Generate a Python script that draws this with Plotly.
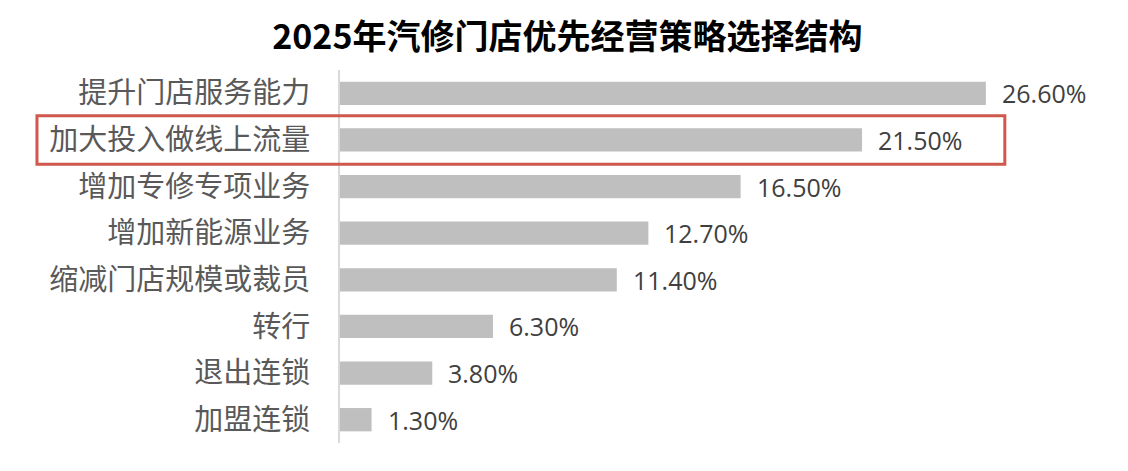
import plotly.graph_objects as go

categories = ["提升门店服务能力", "加大投入做线上流量", "增加专修专项业务", "增加新能源业务",
              "缩减门店规模或裁员", "转行", "退出连锁", "加盟连锁"]
values = [26.6, 21.5, 16.5, 12.7, 11.4, 6.3, 3.8, 1.3]
value_labels = ["26.60%", "21.50%", "16.50%", "12.70%", "11.40%", "6.30%", "3.80%", "1.30%"]
highlight = "加大投入做线上流量"

x_max = 32

fig = go.Figure()
fig.add_trace(go.Bar(
    x=values, y=categories, orientation="h",
    marker=dict(color="#BFBFBF", line=dict(width=0)),
    hoverinfo="skip",
))

for v, c, t in zip(values, categories, value_labels):
    fig.add_annotation(x=v, y=c, text=t, showarrow=False, xanchor="left", xshift=14,
                       font=dict(family="Open Sans, Noto Sans, sans-serif", size=25, color="#404040"))

idx = categories.index(highlight)
n = len(categories)
fig.add_shape(type="rect", xref="paper", yref="paper",
              x0=-0.39, x1=27.38 / x_max,
              y0=1 - (idx + 0.5) / n - 0.52 / n, y1=1 - (idx + 0.5) / n + 0.52 / n,
              line=dict(color="#D0584E", width=3), fillcolor="rgba(0,0,0,0)")

fig.update_layout(
    width=1128, height=471,
    margin=dict(l=340, r=11, t=70, b=28),
    paper_bgcolor="white", plot_bgcolor="white",
    bargap=0.5,
    showlegend=False,
    title=dict(text="<b>2025年汽修门店优先经营策略选择结构</b>", x=0.503, xanchor="center",
               y=0.922, yanchor="middle",
               font=dict(family="Noto Sans CJK SC", size=34, color="#000000")),
)
fig.update_xaxes(range=[0, x_max], visible=False, showgrid=False, zeroline=False)
fig.update_yaxes(autorange="reversed", showgrid=False, zeroline=False,
                 showline=True, linecolor="#D9D9D9", linewidth=2,
                 ticks="", ticklabelstandoff=22,
                 tickfont=dict(family="Noto Sans CJK SC", size=29, color="#595959"))

fig.write_html("out.html")
